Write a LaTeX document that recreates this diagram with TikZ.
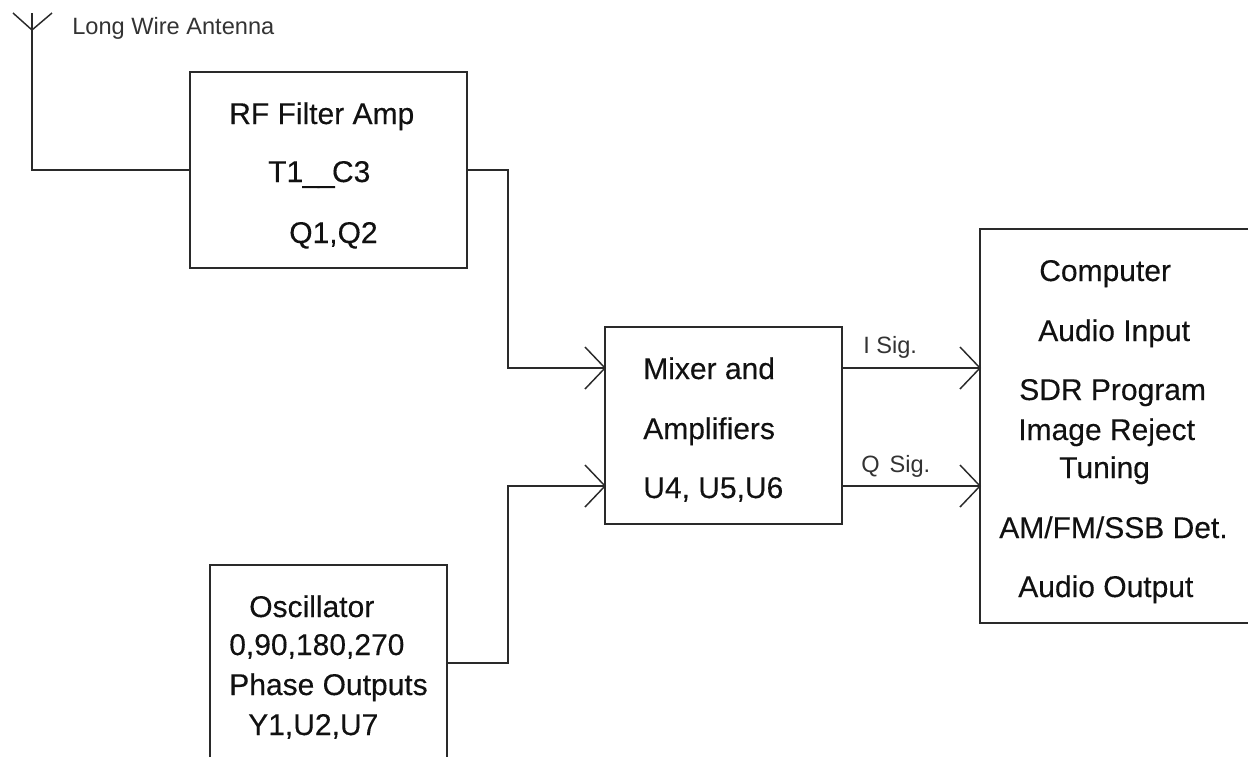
\documentclass[tikz,border=0pt]{standalone}
\usepackage{fontspec}
\setmainfont{Liberation Sans}
\newfontfamily\heavyfont[FakeBold=0.25]{Liberation Sans}
\definecolor{ink}{HTML}{2A2A2A}
\definecolor{txt}{HTML}{111111}
\definecolor{lbl}{HTML}{333333}
\tikzset{
  x=0.75pt,y=-0.75pt,
  wire/.style={draw=ink,line width=1.5pt,line join=miter},
  tick/.style={draw=ink,line width=1.1pt},
  box/.style={draw=ink,line width=1.5pt,inner sep=0pt,outer sep=0pt,anchor=north west},
  hollow/.style={inner sep=0pt,outer sep=0pt,anchor=north west},
  big/.style={anchor=base west,inner sep=0pt,text=txt,font=\heavyfont\fontsize{22.5}{26}\selectfont},
  small/.style={anchor=base west,inner sep=0pt,text=lbl,font=\fontsize{17.7}{20}\selectfont},
}
\newcommand{\headat}[1]{%
  \draw[tick] ([shift={(-20,-21)}]#1) -- (#1) -- ([shift={(-20,21)}]#1);}
\begin{document}
\begin{tikzpicture}
\useasboundingbox (0,0) rectangle (1248,757);
% boxes
\node[box,minimum width=207.75pt,minimum height=147.4pt] (rf) at (190,71.5) {};
\node[box,minimum width=177.4pt,minimum height=147.75pt] (mix) at (605,327) {};
\node[hollow,minimum width=177.75pt,minimum height=144pt] (osc) at (210,565) {};
\node[hollow,minimum width=201pt,minimum height=295.5pt] (comp) at (980,229) {};
\draw[wire] (osc.south west) -- (osc.north west) -- (osc.north east) -- (osc.south east);
\draw[wire] (comp.north east) -- (comp.north west) -- (comp.south west) -- (comp.south east);
% antenna
\coordinate (antbase) at (32,30);
\coordinate (anttop) at (32,13);
\coordinate (antl) at (13,13);
\coordinate (antr) at (52,13);
\coordinate (antcorner) at (32,170);
\draw[tick] (antl) -- (antbase) -- (antr);
\draw[wire] (anttop) -- (antcorner) -- (190,170);
% connectors
\coordinate (mixa) at (605,368);
\coordinate (mixb) at (605,486);
\coordinate (compa) at (980,368);
\coordinate (compb) at (980,486);
\draw[wire] (467,170) -| (508,368) -- (mixa);
\draw[wire] (447,663) -| (508,486) -- (mixb);
\draw[wire] (841.5,368) -- (compa);
\draw[wire] (841.5,486) -- (compb);
\headat{mixa}\headat{mixb}\headat{compa}\headat{compb}
% labels
\node[small] (lant) at (72,34) {Long Wire Antenna};
\node[small] (lisig) at (863,353) {I Sig.};
\node[small] (lqsig) at (861,472) {Q\hspace{2.5pt} Sig.};
\node[big] (t1) at (229,124) {RF Filter Amp};
\node[big] (t2) at (268,182) {T1\kern-0.5pt\_\kern-1pt\_\kern-2pt C3};
\node[big] (t3) at (289,243) {Q1,Q2};
\node[big] (m1) at (643,379) {Mixer and};
\node[big] (m2) at (643,439) {Amplifiers};
\node[big] (m3) at (643,498) {U4, U5,U6};
\node[big] (o1) at (249,617) {Oscillator};
\node[big] (o2) at (229,655) {0,90,180,270};
\node[big] (o3) at (229,695) {Phase Outputs};
\node[big] (o4) at (248,735) {Y1,U2,U7};
\node[big] (c1) at (1039,281) {Computer};
\node[big] (c2) at (1038,341) {Audio Input};
\node[big] (c3) at (1019,400) {SDR Program};
\node[big] (c4) at (1018,440) {Image Reject};
\node[big] (c5) at (1059,478) {Tuning};
\node[big] (c6) at (999,538) {AM/FM/SSB Det.};
\node[big] (c7) at (1018,597) {Audio Output};
\end{tikzpicture}
\end{document}
